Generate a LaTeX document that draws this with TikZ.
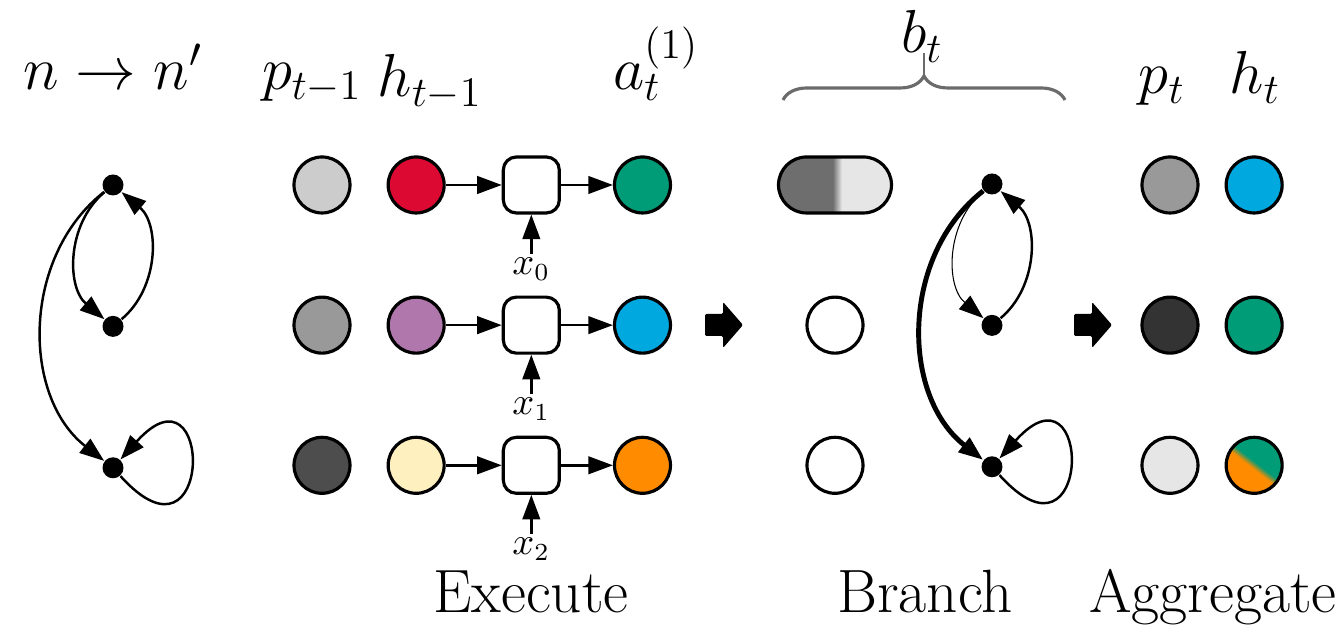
\documentclass[tikz,border=0pt]{standalone}
\usepackage{xcolor}
\usepackage{tikz}
\usetikzlibrary{arrows.meta,positioning,shapes.misc,decorations.pathreplacing}
\definecolor{cgreen}{HTML}{009B77}
\definecolor{cblue}{HTML}{00A8E0}
\definecolor{corange}{HTML}{FF8C00}
\definecolor{cred}{HTML}{DC0A32}
\definecolor{cpurple}{HTML}{B077AC}
\definecolor{cyellow}{HTML}{FFF0BF}
\definecolor{glight}{HTML}{CCCCCC}
\definecolor{gmid}{HTML}{999999}
\definecolor{gdark}{HTML}{4D4D4D}
\definecolor{gdarker}{HTML}{333333}
\definecolor{gpale}{HTML}{E6E6E6}
\definecolor{gpill}{HTML}{6E6E6E}
\definecolor{bracegray}{HTML}{6B6B6B}
\pgfdeclarehorizontalshading{pillshade}{100bp}{color(0bp)=(gpill); color(49bp)=(gpill);
  color(53bp)=(gpale); color(100bp)=(gpale)}
\pgfdeclarehorizontalshading{mixshade}{100bp}{color(0bp)=(corange); color(47bp)=(corange);
  color(53bp)=(cgreen); color(100bp)=(cgreen)}
\tikzset{
  state/.style={
    circle, draw, line width=0.9pt, minimum size=5.6mm, inner sep=0pt
  },
  vertex/.style={circle, fill=black, minimum size=2.1mm, inner sep=0pt},
  cell/.style={
    draw, line width=0.9pt, rounded corners=1.3mm, minimum size=5.6mm, inner sep=0pt
  },
  flow/.style={-{Triangle[length=7pt,width=5pt]}, line width=0.7pt},
  selfloop/.style={out=-48, in=48, min distance=1.4cm},
  head/.style={font=\fontsize{17.5}{21}\selectfont, anchor=base, inner sep=0pt},
  phase/.style={font=\fontsize{17.4}{20}\selectfont, anchor=base, inner sep=0pt},
  input/.style={font=\fontsize{10.5}{12}\selectfont, inner sep=1pt},
  pics/fatarrow/.style={code={
    \fill[rounded corners=0.4pt] (-19,-11) -- (-1,-11) -- (-1,-23) -- (19,0)
      -- (-1,23) -- (-1,11) -- (-19,11) -- cycle;
  }},
}

\begin{document}
\begin{tikzpicture}[x=0.1mm, y=0.1mm]
    \useasboundingbox (0,0) rectangle (1343,630);

    % transition graph n -> n'
    \node[head] (tn) at (113,540) {$n \rightarrow n'$};
    \node[vertex] (u1) at (113,445) {};
    \node[vertex, below=1.19cm of u1] (u2) {};
    \node[vertex, below=1.19cm of u2] (u3) {};
    \draw[flow] (u1) to[bend right=50] (u2);
    \draw[flow] (u2) to[bend right=50] (u1);
    \draw[flow] (u1) to[bend right=52] (u3);
    \draw[flow] (u3) to[selfloop] (u3);

    % execute
    \node[head] (lp) at (312,540) {$p_{t-1}$};
    \node[head] (lh) at (430,533) {$h_{t-1}$};
    \node[head] (la) at (656,540) {$a_t^{(1)}$};
    \node[state, fill=glight] (p1) at (322,445) {};
    \node[state, fill=gmid, below=0.81cm of p1] (p2) {};
    \node[state, fill=gdark, below=0.81cm of p2] (p3) {};
    \node[state, fill=cred, right=0.35cm of p1] (h1) {};
    \node[state, fill=cpurple, right=0.35cm of p2] (h2) {};
    \node[state, fill=cyellow, right=0.35cm of p3] (h3) {};
    \node[cell, right=0.56cm of h1] (f1) {};
    \node[cell, right=0.56cm of h2] (f2) {};
    \node[cell, right=0.56cm of h3] (f3) {};
    \node[state, fill=cgreen, right=0.52cm of f1] (a1) {};
    \node[state, fill=cblue, right=0.52cm of f2] (a2) {};
    \node[state, fill=corange, right=0.52cm of f3] (a3) {};
    \node[input, below=0.39cm of f1] (x0) {$x_0$};
    \node[input, below=0.39cm of f2] (x1) {$x_1$};
    \node[input, below=0.39cm of f3] (x2) {$x_2$};
    \draw[flow] (h1) -- (f1);
    \draw[flow] (h2) -- (f2);
    \draw[flow] (h3) -- (f3);
    \draw[flow] (f1) -- (a1);
    \draw[flow] (f2) -- (a2);
    \draw[flow] (f3) -- (a3);
    \draw[flow] (x0) -- (f1);
    \draw[flow] (x1) -- (f2);
    \draw[flow] (x2) -- (f3);
    \node[phase] (ex) at (531,17) {Execute};

    \pic at (724,305) {fatarrow};

    % branch
    \node[head] (bt) at (922,577) {$b_t$};
    \draw[bracegray, line width=0.9pt, decorate, decoration={brace, amplitude=2.4mm}]
      (783,530) -- (1065,530);
    \coordinate (btip) at (924,554);
    \draw[bracegray, line width=0.4pt] (btip) -- (btip |- bt.base);
    \node[rounded rectangle, draw, line width=0.9pt, shade, shading=pillshade,
          minimum width=11.3mm, minimum height=5.6mm, inner sep=0pt] (b1) at (835,445) {};
    \node[state, fill=white, below=0.81cm of b1] (b2) {};
    \node[state, fill=white, below=0.81cm of b2] (b3) {};
    \node[vertex] (v1) at (992,446) {};
    \node[vertex, below=1.19cm of v1] (v2) {};
    \node[vertex, below=1.19cm of v2] (v3) {};
    \draw[flow, line width=0.3pt] (v1) to[bend right=50] (v2);
    \draw[flow] (v2) to[bend right=50] (v1);
    \draw[flow, line width=1.4pt] (v1) to[bend right=52] (v3);
    \draw[flow] (v3) to[selfloop] (v3);
    \node[phase] (br) at (925,17) {Branch};

    \pic at (1093,305) {fatarrow};

    % aggregate
    \node[head] (lpt) at (1162,536) {$p_t$};
    \node[head] (lht) at (1255,536) {$h_t$};
    \node[state, fill=gmid] (q1) at (1170,445) {};
    \node[state, fill=gdarker, below=0.81cm of q1] (q2) {};
    \node[state, fill=gpale, below=0.81cm of q2] (q3) {};
    \node[state, fill=cblue, right=0.25cm of q1] (r1) {};
    \node[state, fill=cgreen, right=0.25cm of q2] (r2) {};
    \node[state, shade, shading=mixshade, shading angle=52, right=0.25cm of q3] (r3) {};
    \node[phase] (ag) at (1213,17) {Aggregate};
\end{tikzpicture}
\end{document}
